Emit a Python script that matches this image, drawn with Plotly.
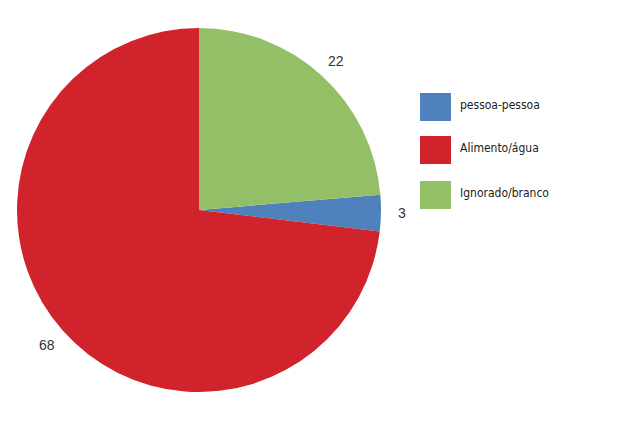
import math
import plotly.graph_objects as go

labels = ["pessoa-pessoa", "Alimento/água", "Ignorado/branco"]
values = [3, 68, 22]
colors = ["#4F81BD", "#D0232B", "#93BF66"]

W, H = 643, 423
OFF = 8  # page body margin
cx, cy, r = 199 - OFF, 210 - OFF, 182

total = sum(values)
rotation = values[2] / total * 360

fig = go.Figure(go.Pie(
    labels=labels, values=values, sort=False, direction="clockwise",
    rotation=rotation,
    marker=dict(colors=colors, line=dict(width=0)),
    textinfo="none",
    domain=dict(x=[(cx - r) / W, (cx + r) / W], y=[1 - (cy + r) / H, 1 - (cy - r) / H]),
    showlegend=False, hoverinfo="label+value",
))

shapes = []
annotations = []

# value labels outside slices
start = rotation
R_lab = 203
for v in values:
    mid = start + v / total * 360 / 2
    a = math.radians(mid)
    px = cx + R_lab * math.sin(a)
    py = cy - R_lab * math.cos(a)
    annotations.append(dict(text=str(v), xref="paper", yref="paper",
                            x=px / W, y=1 - py / H, xanchor="center", yanchor="middle",
                            showarrow=False,
                            font=dict(family="Liberation Sans, Arial", size=14, color="#333333")))
    start += v / total * 360

leg_x0, leg_y0, sq_w, sq_h = 420 - OFF, 93 - OFF, 31, 28
gaps = [0, 43, 88]
for i, (lab, col) in enumerate(zip(labels, colors)):
    y0 = leg_y0 + gaps[i]
    shapes.append(dict(type="rect", xref="paper", yref="paper",
                       x0=leg_x0 / W, x1=(leg_x0 + sq_w) / W,
                       y0=1 - (y0 + sq_h) / H, y1=1 - y0 / H,
                       fillcolor=col, line=dict(width=0)))
    annotations.append(dict(text=lab, xref="paper", yref="paper",
                            x=(leg_x0 + sq_w + 7) / W, y=1 - (y0 + sq_h / 2 - 2) / H,
                            xanchor="left", yanchor="middle", showarrow=False,
                            font=dict(family="DejaVu Sans Condensed", size=12, color="#222222")))

fig.update_layout(width=W, height=H, margin=dict(l=0, r=0, t=0, b=0),
                  paper_bgcolor="white", plot_bgcolor="white",
                  shapes=shapes, annotations=annotations)
fig.write_html("out.html")
